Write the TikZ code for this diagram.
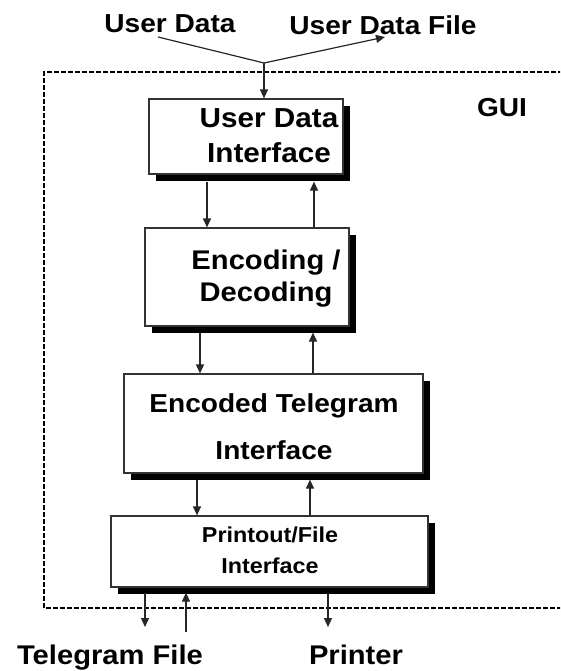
\documentclass[tikz,border=0pt]{standalone}
\usepackage{fontspec}
\setmainfont[FakeStretch=1.08]{Liberation Sans}
\usetikzlibrary{arrows.meta,shadows}
\begin{document}
\begin{tikzpicture}[x=1pt,y=-1pt,
  box/.style={draw=black!80,line width=1.2pt,fill=white,rectangle,inner sep=0pt,
    general shadow={shadow xshift=7pt,shadow yshift=-7pt,fill=black,draw=none}},
  lbl/.style={inner sep=0pt,align=center},
  arr/.style={line width=1.2pt,draw=black!85,-{Triangle[length=9pt,width=8pt]}},
  ln/.style={line width=1.2pt,draw=black!85},
  gui/.style={line width=1.5pt,dash pattern=on 5pt off 2pt}]
\useasboundingbox (0,0) rectangle (560,671);
\clip (0,0) rectangle (560,671);
% GUI border
\draw[gui] (570,72) -- (44,72) -- (44,608) -- (570,608);
\node[lbl,anchor=base,font=\bfseries\fontsize{26}{31}\selectfont] (gui) at (502,117) {GUI};
% boxes
\node[box,minimum width=194pt,minimum height=75pt] (udi) at (246,136.5) {};
\node[box,minimum width=204pt,minimum height=98pt] (enc) at (247,277) {};
\node[box,minimum width=299pt,minimum height=99pt] (eti) at (273.5,423.5) {};
\node[box,minimum width=317pt,minimum height=71pt] (pf) at (269.5,551.5) {};
% labels
\node[lbl,font=\bfseries\fontsize{27.5}{35}\selectfont] (udit) at (269,136) {User Data\\Interface};
\node[lbl,font=\bfseries\fontsize{27}{32}\selectfont] (enct) at (266,278.5) {Encoding /\\Decoding};
\node[lbl,font=\bfseries\fontsize{26}{47}\selectfont] (etit) at (274,427) {Encoded Telegram\\Interface};
\node[lbl,font=\bfseries\fontsize{21.6}{31}\selectfont] (pft) at (270,550) {Printout/File\\Interface};
% outside texts
\node[lbl,anchor=base,font=\bfseries\fontsize{26}{31}\selectfont] (ud) at (170,33) {User Data};
\node[lbl,anchor=base,font=\bfseries\fontsize{26}{31}\selectfont] (udf) at (383,35) {User Data File};
\node[lbl,anchor=base,font=\bfseries\fontsize{27}{32}\selectfont] (tf) at (110,664) {Telegram File};
\node[lbl,anchor=base,font=\bfseries\fontsize{27}{32}\selectfont] (pr) at (356,664) {Printer};
% top connectors
\coordinate (J) at (264,63);
\draw[ln] (158,37) -- (J);
\draw[arr] (J) -- (385,37);
\draw[arr] (J) -- (J |- udi.north);
% UDI <-> Enc
\draw[arr] ([xshift=-39pt,yshift=-7pt]udi.south) -- ([xshift=-40pt]enc.north);
\draw[arr] ([xshift=67pt]enc.north) -- ([xshift=68pt,yshift=-7pt]udi.south);
% Enc <-> ETI
\draw[arr] ([xshift=-47pt,yshift=-6pt]enc.south) -- ([xshift=-73.5pt]eti.north);
\draw[arr] ([xshift=39.5pt]eti.north) -- ([xshift=66pt,yshift=-6pt]enc.south);
% ETI <-> PF
\draw[arr] ([xshift=-76.5pt,yshift=-6pt]eti.south) -- ([xshift=-72.5pt]pf.north);
\draw[arr] ([xshift=40.5pt]pf.north) -- ([xshift=36.5pt,yshift=-6pt]eti.south);
% bottom
\coordinate (tfin) at (145,627);
\coordinate (tfout) at (186,632);
\coordinate (prin) at (328,627);
\draw[arr] ([xshift=-124.5pt,yshift=-5pt]pf.south) -- (tfin);
\draw[arr] (tfout) -- ([xshift=-83.5pt,yshift=-5pt]pf.south);
\draw[arr] ([xshift=58.5pt,yshift=-5pt]pf.south) -- (prin);
\end{tikzpicture}
\end{document}
